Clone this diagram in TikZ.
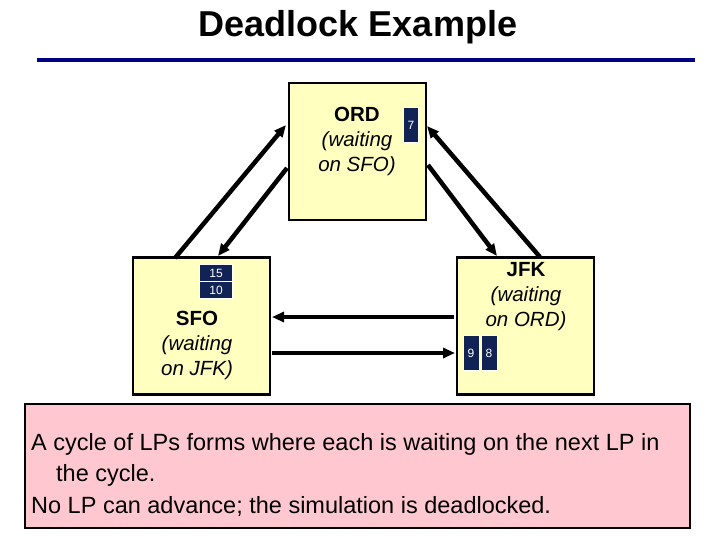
\documentclass[tikz,border=0pt]{standalone}
\usepackage{fontspec}
\setmainfont{Liberation Sans}
\usetikzlibrary{arrows.meta,positioning}
\definecolor{navy}{RGB}{0,0,128}
\definecolor{lpyellow}{RGB}{255,255,192}
\definecolor{notepink}{RGB}{255,200,208}
\definecolor{tagblue}{RGB}{17,34,85}
\begin{document}
\begin{tikzpicture}[
    x = 1pt, y = -1pt, % pixel grid
    >= {Triangle[length=12pt,width=10pt]},
    link/.style = {->, line width=4.5pt, shorten >=0pt},
    lp/.style = {draw=black, line width=2.5pt, fill=lpyellow, minimum size=137pt, inner sep=0pt},
    lptext/.style = {align=center, font=\fontsize{20.5}{25}\selectfont},
    tag/.style = {fill=tagblue, text=white, font=\fontsize{12}{13}\selectfont, inner sep=0pt, draw=white, line width=1pt}
    ]
    \useasboundingbox (0,0) rectangle (720,540);
    % title
    \node (title) at (358,27) {\fontsize{36}{40}\selectfont\bfseries Deadlock Example};
    \draw[navy, line width=4pt] (37,60) -- (695,60);

    % logical processes
    \node[lp] (ord) at (357.5,151.5) {};
    \node[lp] (sfo) at (201.5,326) {};
    \node[lp] (jfk) at (525.5,326) {};
    \node[lptext] (ordtext) at (357,141) {\textbf{ORD}\\\textit{(waiting}\\\textit{on SFO)}};
    \node[lptext] (sfotext) at (197,345) {\textbf{SFO}\\\textit{(waiting}\\\textit{on JFK)}};
    \node[lptext] (jfktext) at (526,297) {\textbf{JFK}\\\textit{(waiting}\\\textit{on ORD)}};

    % pending messages
    \node[tag, minimum width=15pt, minimum height=35pt] (m7) at (411,125) {7};
    \node[tag, minimum width=33pt, minimum height=17pt] (m15) at (216,273) {15};
    \node[tag, minimum width=33pt, minimum height=17pt] (m10) at (216,290) {10};
    \node[tag, minimum width=16pt, minimum height=35pt] (m9) at (471,353) {9};
    \node[tag, minimum width=16pt, minimum height=35pt] (m8) at (489,353) {8};

    % channel end points
    \coordinate (sfo1) at (175,258);  \coordinate (ord1) at (286,125);
    \coordinate (ord2) at (287,168);  \coordinate (sfo2) at (218,256);
    \coordinate (jfk1) at (540,257);  \coordinate (ord3) at (427,126);
    \coordinate (ord4) at (428,165);  \coordinate (jfk2) at (497,256);
    \coordinate (jfk3) at (454,317);  \coordinate (sfo3) at (272,317);
    \coordinate (sfo4) at (272,353);  \coordinate (jfk4) at (455,353);
    \draw[link] (sfo1) -- (ord1);
    \draw[link] (ord2) -- (sfo2);
    \draw[link] (jfk1) -- (ord3);
    \draw[link] (ord4) -- (jfk2);
    \draw[link] (jfk3) -- (sfo3);
    \draw[link] (sfo4) -- (jfk4);

    % note
    \node[draw=black, line width=1.5pt, fill=notepink, minimum width=665pt, minimum height=124pt, inner sep=0pt] (note) at (357.5,466) {};
    \node[anchor=north west, align=left, inner sep=0pt, font=\fontsize{23.5}{31.5}\selectfont] (notetext) at (31,433) {A cycle of LPs forms where each is waiting on the next LP in\\\hspace*{25pt}the cycle.\\No LP can advance; the simulation is deadlocked.};
\end{tikzpicture}
\end{document}
